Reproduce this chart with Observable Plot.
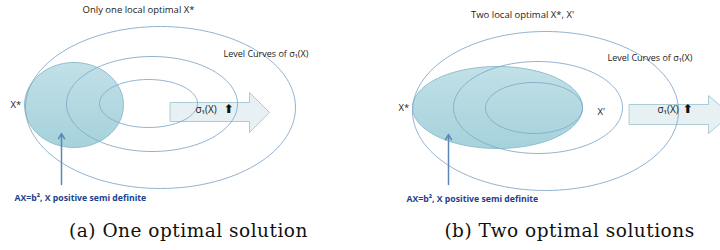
<!DOCTYPE html>
<html><head><meta charset="utf-8">
<script src="https://cdn.jsdelivr.net/npm/d3@7"></script>
<script src="https://cdn.jsdelivr.net/npm/@observablehq/plot@0.6"></script>
<style>body{margin:0;background:#fff}</style>
</head><body><div id="chart"></div>
<script>
// Level-curve ellipses (panel, cx, cy, rx, ry)
const levelCurves = [
  {panel:"a", cx:160, cy:107, rx:135, ry:81},
  {panel:"a", cx:151.5, cy:103.5, rx:85.5, ry:47.5},
  {panel:"a", cx:148, cy:103, rx:49, ry:24},
  {panel:"b", cx:545, cy:110.5, rx:133, ry:79.5},
  {panel:"b", cx:537.5, cy:107, rx:84.5, ry:46},
  {panel:"b", cx:533.5, cy:107.5, rx:48.5, ry:25.5}
];
// Feasible regions (filled)
const feasible = [
  {panel:"a", cx:73.5, cy:104.5, rx:49.5, ry:42.5},
  {panel:"b", cx:497, cy:107, rx:85, ry:41}
];
// Direction arrows (x0 body start, x1 head start, tip, body top/bottom, head top/bottom)
const dirArrows = [
  {panel:"a", x0:170, x1:249, tip:269, bt:102, bb:121, ht:92, hb:132},
  {panel:"b", x0:629, x1:708, tip:730, bt:104, bb:124, ht:95, hb:133}
];
// Pointer arrows to feasible region
const pointers = [
  {panel:"a", x:61, y1:184, y2:133},
  {panel:"b", x:448, y1:184, y2:134}
];
// Text labels
const titles = [
  {x:138, y:9, text:"Only one local optimal X*"},
  {x:522, y:14, text:"Two local optimal X*, X'"}
];
const levelLabels = [
  {x:223, y:54, text:"Level Curves of σ₁(X)"},
  {x:607, y:58, text:"Level Curves of σ₁(X)"}
];
const pointLabels = [
  {x:10, y:104, text:"X*"},
  {x:398, y:107, text:"X*"},
  {x:597, y:111, text:"X'"}
];
const sigmaLabels = [
  {x:195, y:109, text:"σ₁(X)", arrowX:228},
  {x:657, y:109, text:"σ₁(X)", arrowX:687}
];
const constraintLabels = [
  {x:14, y:198, text:"AX=b², X positive semi definite"},
  {x:406, y:199, text:"AX=b², X positive semi definite"}
];
const captions = [
  {x:188, y:231, text:"(a) One optimal solution"},
  {x:569, y:231, text:"(b) Two optimal solutions"}
];

function ellipsePts(list) {
  const out = [];
  list.forEach((e, i) => {
    for (let a = 0; a < 360; a += 3) {
      const t = a * Math.PI / 180;
      out.push({id: i, x: e.cx + e.rx * Math.cos(t), y: e.cy + e.ry * Math.sin(t)});
    }
  });
  return out;
}
function arrowPts(list) {
  const out = [];
  list.forEach((d, i) => {
    const mid = (d.ht + d.hb) / 2;
    [[d.x0,d.bt],[d.x1,d.bt],[d.x1,d.ht],[d.tip,mid],[d.x1,d.hb],[d.x1,d.bb],[d.x0,d.bb]]
      .forEach(([x,y]) => out.push({id:i, x, y}));
  });
  return out;
}

const defs = () => {
  const g = d3.create("svg:defs");
  const lg = g.append("linearGradient").attr("id","feas").attr("x1",0).attr("y1",0).attr("x2",0).attr("y2",1);
  lg.append("stop").attr("offset","0%").attr("stop-color","#c2e0e7");
  lg.append("stop").attr("offset","100%").attr("stop-color","#a5d2dc");
  return g.node();
};

const font = "'Open Sans', sans-serif";
const chart = Plot.plot({
  width: 720, height: 250,
  margin: 0,
  x: {domain: [0, 720], range: [0, 720], axis: null},
  y: {domain: [0, 250], range: [0, 250], axis: null},
  marks: [
    defs,
    Plot.line(ellipsePts(feasible), {x:"x", y:"y", z:"id", curve:"linear-closed", fill:"url(#feas)", stroke:"#92bfcd", strokeWidth:1}),
    Plot.line(arrowPts(dirArrows), {x:"x", y:"y", z:"id", curve:"linear-closed", fill:"#e3edf0", fillOpacity:0.85, stroke:"#a9ccd6", strokeWidth:1}),
    Plot.line(ellipsePts(levelCurves), {x:"x", y:"y", z:"id", curve:"linear-closed", stroke:"#86a9c9", strokeWidth:0.9}),
    Plot.arrow(pointers, {x1:"x", y1:"y1", x2:"x", y2:"y2", stroke:"#5d86b8", strokeWidth:1.5, headLength:6}),
    Plot.text(titles, {x:"x", y:"y", text:"text", fontFamily:font, fontSize:9.5, fill:"#222"}),
    Plot.text(levelLabels, {x:"x", y:"y", text:"text", textAnchor:"start", fontFamily:font, fontSize:9, fill:"#222"}),
    Plot.text(pointLabels, {x:"x", y:"y", text:"text", textAnchor:"start", fontFamily:font, fontSize:9.5, fill:"#222"}),
    Plot.text(sigmaLabels, {x:"x", y:"y", text:"text", textAnchor:"start", fontFamily:font, fontSize:10, fill:"#222"}),
    Plot.text(sigmaLabels, {x:"arrowX", y:"y", text:() => "⬆", fontFamily:"'DejaVu Sans'", fontSize:12, fontWeight:"bold", fill:"#111"}),
    Plot.text(constraintLabels, {x:"x", y:"y", text:"text", textAnchor:"start", fontFamily:font, fontSize:8.7, fontWeight:"bold", fill:"#1d3f8c"}),
    Plot.text(captions, {x:"x", y:"y", text:"text", fontFamily:"'DejaVu Serif', serif", fontSize:18.5, fill:"#111"})
  ]
});
d3.select(chart).selectAll("text").filter(function(){ return this.textContent.startsWith("("); })
  .attr("letter-spacing", "0.5px");
document.getElementById("chart").append(chart);
</script>
</body></html>
